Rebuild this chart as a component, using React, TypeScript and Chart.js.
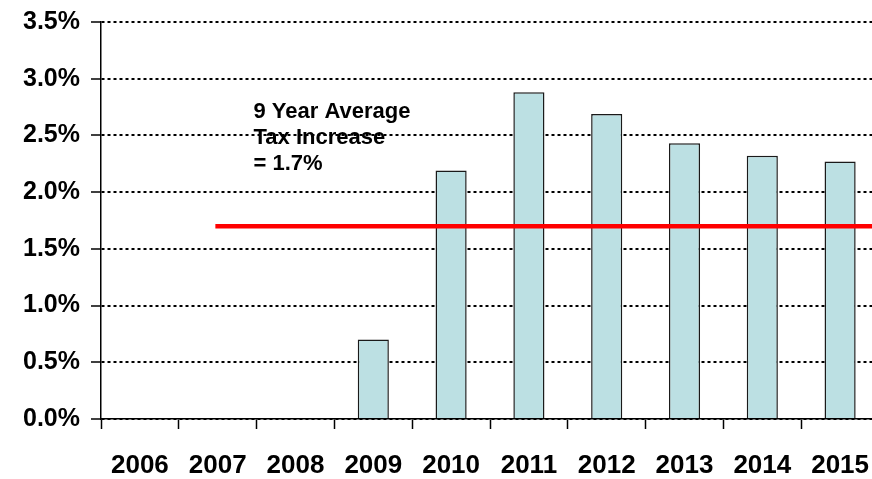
import React, { useEffect, useRef } from "react";
import { Chart, registerables } from "chart.js";

Chart.register(...registerables);

const years = ["2006", "2007", "2008", "2009", "2010", "2011", "2012", "2013", "2014", "2015"];
const taxIncrease: (number | null)[] = [null, null, null, 0.7, 2.19, 2.88, 2.69, 2.43, 2.32, 2.27];
const averageIncrease = 1.7;
const averageStartYear = "2007";
const annotationLines = ["9 Year Average", "Tax Increase", "= 1.7%"];
const annotationX = 1.46; // in category-index units
const annotationY = 2.65; // in % units (baseline of first line)
const yMin = 0;
const yMax = 3.5;
const yStep = 0.5;

const FONT = "'Liberation Sans', Arial, Helvetica, sans-serif";

export default function App() {
  const ref = useRef<HTMLCanvasElement>(null);

  useEffect(() => {
    if (!ref.current) return;
    const startIdx = years.indexOf(averageStartYear);
    const avgLine = [
      { x: startIdx - 0.03, y: averageIncrease },
      { x: years.length - 0.5, y: averageIncrease },
    ];

    const annotationPlugin = {
      id: "annotationText",
      afterDatasetsDraw(chart: any) {
        const { ctx, scales } = chart;
        const x = scales.x2.getPixelForValue(annotationX);
        const y0 = scales.y.getPixelForValue(annotationY);
        ctx.save();
        ctx.font = `bold 22px ${FONT}`;
        ctx.fillStyle = "#000";
        ctx.textAlign = "left";
        ctx.textBaseline = "alphabetic";
        annotationLines.forEach((t, i) => ctx.fillText(t, x, y0 + i * 26));
        ctx.restore();
      },
    };

    const chart = new Chart(ref.current, {
      type: "bar",
      data: {
        labels: years,
        datasets: [
          {
            type: "bar",
            data: taxIncrease,
            backgroundColor: "#BCE0E3",
            borderColor: "#1a1a1a",
            borderWidth: 1.5,
            barPercentage: 0.4,
            categoryPercentage: 1,
            grouped: false,
            order: 1,
            xAxisID: "x",
            yAxisID: "y",
          } as any,
          {
            type: "line",
            data: avgLine,
            xAxisID: "x2",
            yAxisID: "y",
            borderColor: "#FF0000",
            borderWidth: 4.5,
            pointRadius: 0,
            tension: 0,
            fill: false,
            order: 0,
          } as any,
        ],
      },
      options: {
        responsive: false,
        animation: false,
        devicePixelRatio: 1,
        layout: { padding: { top: 22, right: 1, left: 0, bottom: 0 } },
        plugins: { legend: { display: false }, tooltip: { enabled: false } },
        scales: {
          x: {
            type: "category",
            offset: true,
            grid: {
              display: true,
              drawOnChartArea: false,
              drawTicks: true,
              tickLength: 10,
              tickColor: "#000",
              tickWidth: 1.5,
              offset: true,
            },
            border: { display: true, color: "#000", width: 1.5 },
            ticks: {
              font: { family: FONT, size: 26, weight: "bold" },
              color: "#000",
              padding: 21,
              maxRotation: 0,
              autoSkip: false,
            },
            afterFit(s: any) {
              s.height = 60;
              s.paddingLeft = 0;
              s.paddingRight = 0;
            },
          },
          x2: {
            type: "linear",
            display: false,
            offset: false,
            grid: { offset: false },
            min: -0.5,
            max: years.length - 0.5,
          },
          y: {
            min: yMin,
            max: yMax,
            ticks: {
              stepSize: yStep,
              callback: (v: any) => Number(v).toFixed(1) + "%",
              font: { family: FONT, size: 25, weight: "bold" },
              color: "#000",
              padding: 11,
            },
            grid: {
              color: "#000",
              lineWidth: 2,
              drawTicks: true,
              tickLength: 10,
              tickColor: "#000",
              tickWidth: 1.5,
              tickBorderDash: [],
            },
            border: { display: true, color: "#000", width: 1.5, dash: [3, 3] },
            afterFit(s: any) {
              s.width = 101;
              s.paddingTop = 0;
              s.paddingBottom = 0;
            },
          },
        } as any,
      },
      plugins: [annotationPlugin],
    });
    return () => chart.destroy();
  }, []);

  return (
    <div
      style={{
        position: "fixed",
        left: 0,
        top: 0,
        width: 872,
        height: 479,
        overflow: "hidden",
        background: "#fff",
      }}
    >
      <canvas ref={ref} width={880} height={479} style={{ display: "block" }} />
    </div>
  );
}
